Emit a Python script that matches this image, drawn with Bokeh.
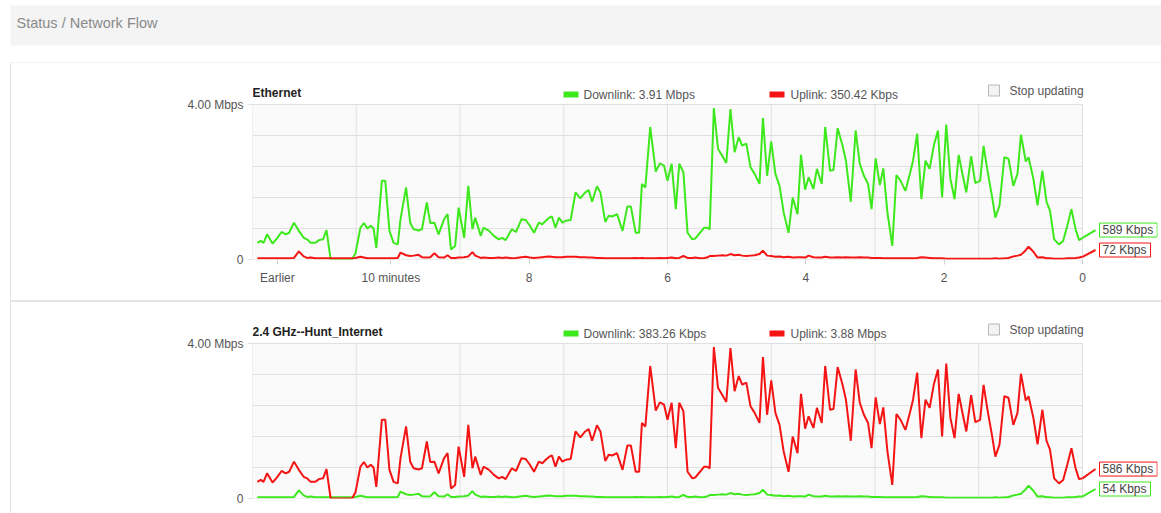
from bokeh.plotting import figure
from bokeh.models import Range1d, FixedTicker, Label, Spacer
from bokeh.layouts import column, row
from bokeh.embed import file_html
from bokeh.resources import INLINE
from bokeh.core.properties import value

# ---------------- data (minutes before now, Mbps) ----------------
minutes = [
    -11.93, -11.88, -11.84, -11.79, -11.71, -11.64, -11.58, -11.52, -11.47, -11.40,
    -11.33, -11.26, -11.21, -11.16, -11.09, -11.04, -10.98, -10.93, -10.87, -10.56,
    -10.51, -10.44, -10.39, -10.34, -10.29, -10.25, -10.21, -10.13, -10.08, -10.02,
    -9.96, -9.90, -9.86, -9.78, -9.72, -9.67, -9.60, -9.55, -9.48, -9.43,
    -9.37, -9.31, -9.23, -9.18, -9.13, -9.07, -9.02, -8.94, -8.88, -8.82,
    -8.78, -8.70, -8.66, -8.58, -8.51, -8.44, -8.39, -8.34, -8.28, -8.25,
    -8.19, -8.11, -8.05, -7.99, -7.93, -7.86, -7.81, -7.76, -7.71, -7.67,
    -7.62, -7.57, -7.52, -7.47, -7.40, -7.33, -7.26, -7.19, -7.14, -7.09,
    -7.02, -6.97, -6.90, -6.85, -6.80, -6.73, -6.65, -6.58, -6.53, -6.46,
    -6.41, -6.37, -6.32, -6.25, -6.17, -6.11, -6.05, -6.00, -5.94, -5.88,
    -5.83, -5.77, -5.71, -5.64, -5.60, -5.53, -5.47, -5.43, -5.39, -5.33,
    -5.27, -5.21, -5.15, -5.09, -5.03, -4.97, -4.92, -4.86, -4.80, -4.74,
    -4.67, -4.62, -4.56, -4.50, -4.44, -4.38, -4.32, -4.25, -4.19, -4.12,
    -4.07, -4.01, -3.96, -3.89, -3.84, -3.77, -3.72, -3.65, -3.60, -3.54,
    -3.47, -3.42, -3.35, -3.28, -3.22, -3.16, -3.10, -3.05, -2.99, -2.93,
    -2.88, -2.82, -2.75, -2.69, -2.63, -2.56, -2.49, -2.45, -2.39, -2.33,
    -2.27, -2.21, -2.15, -2.09, -2.03, -1.97, -1.91, -1.85, -1.79, -1.73,
    -1.68, -1.61, -1.55, -1.48, -1.43, -1.37, -1.31, -1.26, -1.20, -1.13,
    -1.07, -1.00, -0.94, -0.89, -0.82, -0.78, -0.71, -0.65, -0.58, -0.52,
    -0.47, -0.41, -0.34, -0.28, -0.22, -0.16, -0.10, -0.05, 0.00,
]

eth_down = [
    0.43, 0.48, 0.43, 0.65, 0.41, 0.56, 0.71, 0.65, 0.69, 0.95,
    0.74, 0.56, 0.52, 0.43, 0.43, 0.50, 0.52, 0.76, 0.00, 0.00,
    0.17, 0.82, 0.94, 0.80, 0.87, 0.80, 0.30, 2.03, 2.03, 0.74,
    0.43, 0.39, 1.04, 1.86, 0.95, 0.78, 0.75, 0.78, 1.47, 0.94,
    0.95, 0.65, 1.04, 1.17, 0.26, 0.35, 1.34, 0.56, 1.90, 0.78,
    1.08, 0.61, 0.82, 0.74, 0.61, 0.52, 0.56, 0.50, 0.69, 0.78,
    0.71, 1.04, 1.02, 0.87, 0.69, 0.95, 0.91, 1.00, 1.08, 1.11,
    0.82, 1.08, 0.95, 1.00, 1.02, 1.73, 1.58, 1.73, 1.79, 1.49,
    1.89, 1.73, 0.97, 1.13, 1.11, 1.17, 0.74, 1.37, 1.37, 0.69,
    0.69, 1.95, 1.86, 3.42, 2.27, 2.48, 2.42, 2.03, 2.47, 1.30,
    2.47, 2.25, 0.69, 0.52, 0.54, 0.69, 0.82, 0.82, 0.78, 3.91,
    2.86, 2.68, 2.49, 3.88, 2.77, 3.16, 2.94, 2.99, 2.38, 2.21,
    1.95, 3.65, 2.16, 3.05, 2.21, 1.90, 1.21, 0.69, 1.60, 1.17,
    2.70, 1.80, 2.12, 1.82, 2.34, 1.95, 3.42, 2.29, 2.31, 3.39,
    2.94, 2.55, 1.49, 3.33, 2.47, 2.16, 1.95, 1.30, 2.61, 1.92,
    2.35, 1.21, 0.35, 2.18, 2.03, 1.77, 2.25, 2.55, 3.25, 1.56,
    2.55, 2.34, 2.94, 3.33, 1.60, 3.48, 2.08, 1.56, 2.70, 2.16,
    1.73, 2.67, 1.97, 2.03, 2.93, 2.25, 1.65, 1.08, 1.39, 2.64,
    2.60, 1.90, 2.21, 3.22, 2.53, 2.64, 2.08, 1.40, 2.29, 1.49,
    1.26, 0.52, 0.39, 0.48, 0.87, 1.30, 0.78, 0.50, 0.56,
]

eth_up = [
    0.03, 0.03, 0.03, 0.03, 0.03, 0.03, 0.03, 0.03, 0.03, 0.04,
    0.21, 0.08, 0.04, 0.05, 0.03, 0.03, 0.03, 0.03, 0.03, 0.03,
    0.04, 0.07, 0.05, 0.03, 0.03, 0.03, 0.03, 0.03, 0.03, 0.03,
    0.03, 0.04, 0.18, 0.11, 0.09, 0.10, 0.12, 0.06, 0.05, 0.06,
    0.16, 0.06, 0.05, 0.11, 0.04, 0.04, 0.05, 0.06, 0.08, 0.19,
    0.10, 0.04, 0.05, 0.04, 0.04, 0.05, 0.04, 0.05, 0.04, 0.03,
    0.04, 0.06, 0.07, 0.05, 0.04, 0.05, 0.06, 0.07, 0.08, 0.07,
    0.06, 0.06, 0.06, 0.07, 0.07, 0.07, 0.06, 0.06, 0.05, 0.05,
    0.04, 0.04, 0.03, 0.03, 0.03, 0.03, 0.03, 0.03, 0.03, 0.04,
    0.03, 0.04, 0.03, 0.03, 0.03, 0.04, 0.03, 0.04, 0.05, 0.03,
    0.04, 0.09, 0.04, 0.04, 0.05, 0.03, 0.04, 0.05, 0.09, 0.09,
    0.10, 0.11, 0.10, 0.14, 0.11, 0.12, 0.10, 0.09, 0.10, 0.11,
    0.14, 0.23, 0.10, 0.09, 0.07, 0.08, 0.06, 0.07, 0.05, 0.06,
    0.06, 0.05, 0.10, 0.06, 0.05, 0.05, 0.07, 0.05, 0.05, 0.06,
    0.05, 0.06, 0.05, 0.05, 0.06, 0.05, 0.05, 0.04, 0.04, 0.04,
    0.03, 0.03, 0.03, 0.03, 0.03, 0.03, 0.03, 0.03, 0.04, 0.06,
    0.05, 0.04, 0.03, 0.03, 0.03, 0.02, 0.02, 0.02, 0.02, 0.02,
    0.02, 0.02, 0.02, 0.02, 0.02, 0.02, 0.02, 0.03, 0.02, 0.03,
    0.04, 0.08, 0.10, 0.12, 0.24, 0.33, 0.20, 0.05, 0.06, 0.03,
    0.03, 0.02, 0.02, 0.02, 0.03, 0.03, 0.04, 0.05, 0.07,
]

# the 2.4 GHz panel shows the same traffic the other way round
wifi_up = eth_down[:-1] + [0.52]
wifi_down = eth_up[:-1] + [0.05]

panel_titles = ["Ethernet", "2.4 GHz--Hunt_Internet"]
downlink_legends = ["Downlink: 3.91 Mbps", "Downlink: 383.26 Kbps"]
uplink_legends = ["Uplink: 350.42 Kbps", "Uplink: 3.88 Mbps"]
downlink_now = ["589 Kbps", "54 Kbps"]
uplink_now = ["72 Kbps", "586 Kbps"]

x_tick_values = [-11.64, -10, -8, -6, -4, -2, 0]
x_tick_labels = ["Earlier", "10 minutes", "8", "6", "4", "2", "0"]
y_tick_values = [0, 4]
y_tick_labels = ["0", "4.00 Mbps"]
y_grid_values = [0, 0.8, 1.6, 2.4, 3.2, 4.0]
x_grid_values = [-12, -10.5, -9, -7.5, -6, -4.5, -3, -1.5, 0]

# ---------------- style / geometry ----------------
FONT = "Liberation Sans"
GREEN = "#3de81c"
RED = "#f51414"
GRID = "#e0e0e0"
TXT = "#555555"

PX_PER_MIN = 69.1667
PX_PER_MBPS = 38.75
X_ZERO_PAGE = 1082
FRAME_LEFT_PAGE = 252
FRAME_RIGHT_PAGE = 1157
FIG_LEFT_PAGE = 11
PAGE_W = 1161
FIG_W = PAGE_W - FIG_LEFT_PAGE
X_MIN, X_MAX = -12, 0
Y_MIN, Y_MAX = 0, 4


def tx(page_x):
    return (page_x - X_ZERO_PAGE) / PX_PER_MIN


def make_chart(i, down, up, height, top, bottom, zero_page, head_y, check_y,
               with_x_axis, box_hi_down):
    def ty(page_y):
        return (zero_page - page_y) / PX_PER_MBPS

    frame_h = height - top - bottom
    p = figure(width=FIG_W, height=height,
               x_range=Range1d(X_MIN, tx(FRAME_RIGHT_PAGE)),
               y_range=Range1d(Y_MIN, frame_h / PX_PER_MBPS),
               output_backend="svg", toolbar_location=None,
               min_border_left=FRAME_LEFT_PAGE - FIG_LEFT_PAGE,
               min_border_right=PAGE_W - FRAME_RIGHT_PAGE,
               min_border_top=top, min_border_bottom=bottom,
               x_axis_location="below" if with_x_axis else None,
               outline_line_color=None, background_fill_color="white",
               border_fill_color="white")
    p.grid.visible = False

    # plot area background and grid limited to the plotting box
    p.quad(left=[X_MIN], right=[X_MAX], bottom=[Y_MIN], top=[Y_MAX], fill_color="#fafafa",
           line_color=None, level="image")
    ng = len(y_grid_values)
    p.segment(x0=[X_MIN] * ng, y0=y_grid_values, x1=[X_MAX] * ng, y1=y_grid_values,
              line_color=GRID, line_width=1, level="underlay")
    nv = len(x_grid_values)
    p.segment(x0=x_grid_values, y0=[Y_MIN] * nv, x1=x_grid_values, y1=[Y_MAX] * nv,
              line_color=GRID, line_width=1, level="underlay")

    ya = p.yaxis[0]
    ya.ticker = FixedTicker(ticks=y_tick_values)
    ya.major_label_overrides = dict(zip(y_tick_values, y_tick_labels))
    ya.axis_line_color = None
    ya.major_tick_line_color = GRID
    ya.major_tick_out = 5
    ya.major_tick_in = 0
    ya.minor_tick_line_color = None
    ya.major_label_standoff = 4
    ya.major_label_text_font = FONT
    ya.major_label_text_font_size = "12px"
    ya.major_label_text_color = TXT

    if with_x_axis:
        xa = p.xaxis[0]
        xa.ticker = FixedTicker(ticks=x_tick_values)
        xa.major_label_overrides = dict(zip(x_tick_values, x_tick_labels))
        xa.axis_line_color = None
        xa.major_tick_line_color = "#d0d0d0"
        xa.major_tick_out = 5
        xa.major_tick_in = 0
        xa.minor_tick_line_color = None
        xa.major_label_standoff = 6
        xa.major_label_text_font = FONT
        xa.major_label_text_font_size = "12px"
        xa.major_label_text_color = TXT

    # series
    p.line(minutes, down, line_color=GREEN, line_width=2)
    p.line(minutes, up, line_color=RED, line_width=2)

    # title, legend, checkbox
    p.text(x=[X_MIN], y=[ty(head_y - 1)], text=[panel_titles[i]],
           text_font=value(FONT), text_font_size="12px", text_font_style="bold",
           text_color="#222222", text_baseline="middle", text_align="left")
    p.rect(x=[tx(570.5), tx(776.5)], y=[ty(head_y + 1)] * 2, width=15, height=6,
           width_units="screen", height_units="screen",
           fill_color=[GREEN, RED], line_color=None)
    p.text(x=[tx(583), tx(790)], y=[ty(head_y + 1)] * 2,
           text=[downlink_legends[i], uplink_legends[i]],
           text_font=value(FONT), text_font_size="12px", text_color=TXT,
           text_baseline="middle", text_align="left")
    p.rect(x=[tx(993.5)], y=[ty(check_y)], width=11, height=11,
           width_units="screen", height_units="screen",
           fill_color="#f3f3f3", line_color="#b8b8b8", line_width=1)
    p.text(x=[tx(1009)], y=[ty(check_y)], text=["Stop updating"],
           text_font=value(FONT), text_font_size="12px", text_color=TXT,
           text_baseline="middle", text_align="left")

    # current value boxes with leader lines
    hi_y, lo_y = 0.76, 0.245
    dy = hi_y if box_hi_down else lo_y
    uy = lo_y if box_hi_down else hi_y
    box_x = tx(1095)
    for series, yb, col, txt in ((down, dy, GREEN, downlink_now[i]),
                                 (up, uy, RED, uplink_now[i])):
        p.segment(x0=[minutes[-1]], y0=[series[-1]], x1=[box_x], y1=[yb],
                  line_color=col, line_width=2)
        p.add_layout(Label(x=tx(1099), y=yb, text=txt, text_font=FONT,
                           text_font_size="12px", text_color="#444444",
                           text_baseline="middle", text_align="left",
                           background_fill_color="white",
                           border_line_color=col, border_line_width=1,
                           padding=dict(left=3, right=4, top=0, bottom=0)))
    return p


# ---------------- header ----------------
HEAD_H = 63
header = figure(width=PAGE_W, height=HEAD_H, x_range=Range1d(0, PAGE_W),
                y_range=Range1d(0, HEAD_H),
                output_backend="svg", toolbar_location=None, min_border=0,
                x_axis_type=None, y_axis_type=None, outline_line_color=None,
                background_fill_color="white", border_fill_color="white")
header.grid.visible = False
header.quad(left=[10], right=[PAGE_W], bottom=[HEAD_H - 45], top=[HEAD_H - 5],
            fill_color="#f4f4f4", line_color=None)
header.segment(x0=[10], y0=[0.5], x1=[PAGE_W], y1=[0.5], line_color="#e4e4e4", line_width=1)
header.text(x=[16], y=[HEAD_H - 22], text=["Status / Network Flow"], text_font=value(FONT),
            text_font_size="14.5px", text_color="#8a8a8a", text_baseline="middle",
            text_align="left")

chart1 = make_chart(0, eth_down, eth_up, height=237, top=15, bottom=41, zero_page=259,
                    head_y=93, check_y=90, with_x_axis=True, box_hi_down=True)
chart2 = make_chart(1, wifi_down, wifi_up, height=211, top=16, bottom=15, zero_page=498,
                    head_y=332, check_y=329, with_x_axis=False, box_hi_down=False)

left_gap = Spacer(width=10, height=450)
left_line = Spacer(width=1, height=450, styles={"background-color": "#e4e4e4"})
sep = Spacer(width=FIG_W, height=2, styles={"background-color": "#e4e4e4"})

layout = column(header, row(left_gap, left_line, column(chart1, sep, chart2)))

open("out.html", "w").write(file_html(layout, INLINE))
